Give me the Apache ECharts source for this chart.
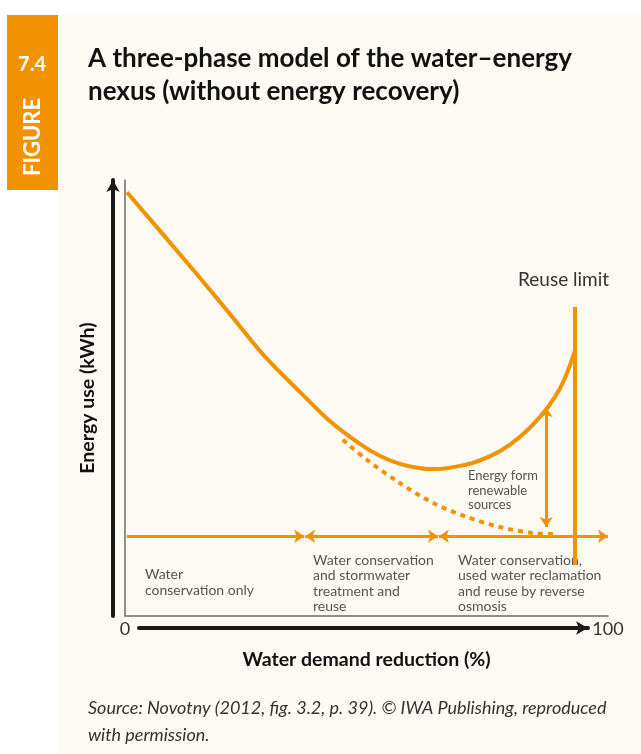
<!DOCTYPE html>
<html>
<head>
<meta charset="utf-8">
<script src="https://cdn.jsdelivr.net/npm/echarts@6/dist/echarts.min.js"></script>
<style>
  html, body { margin: 0; padding: 0; background: #ffffff; }
  #nexus-chart { width: 641px; height: 754px; }
</style>
</head>
<body>
<div id="nexus-chart"></div>
<script>
  // values: x = water demand reduction (%), y = energy use (relative)
  var energyX = [0.4, 14.1, 21.7, 28.9, 36.2, 42.4, 48.7, 52.8, 56.9, 61.1, 64.6, 68.3, 72.5, 77.6, 81.8, 85.9, 89.0, 91.1, 93.2];
  var energyY = [97.2, 79.4, 69.3, 59.6, 51.4, 44.7, 39.4, 36.7, 34.9, 33.9, 33.7, 34.2, 35.3, 37.8, 41.1, 45.6, 50.2, 54.6, 61.0];
  // dashed: energy use when renewable sources cover part of it
  var renewX = [45.1, 50.1, 56.9, 63.8, 70.8, 77.6, 84.5, 89.0];
  var renewY = [40.4, 35.8, 30.5, 25.9, 22.7, 20.4, 19.0, 18.8];
  // phase span arrows
  var phaseLevel = 18.3;
  var phaseBounds = [0.4, 37.1, 37.3, 64.8, 65.0, 100];
  var reuseLimitX = 93.2;
  var reuseLimitSpan = [11.7, 70.9];
  var renewArrowX = 87.2;
  var renewArrowSpan = [20.4, 47.9];
  var xTicks = [0, 100];

  var orange = '#f39200';
  var font = 'Lato, "Noto Sans", sans-serif';

  function pairs(xs, ys) {
    var arr = [];
    xs.map(function(v, i) {
      arr.push([v, ys[i]]);
    });
    return arr;
  }

  var chart = echarts.init(document.getElementById('nexus-chart'));
  var option = {
    backgroundColor: '#ffffff',
    textStyle: { fontFamily: font },
    title: {
      text: 'A three-phase model of the water\u2013energy\nnexus (without energy recovery)',
      left: 88,
      top: 42,
      padding: 0,
      textStyle: {
        fontFamily: font,
        fontSize: 26,
        fontWeight: 'bold',
        color: '#111111',
        lineHeight: 33
      }
    },
    graphic: [
      { type: 'rect', z: -10, shape: { x: 58, y: 15, width: 583, height: 739 }, style: { fill: '#fdf9f3' } },
      { type: 'rect', z: -10, shape: { x: 7, y: 15, width: 51, height: 175 }, style: { fill: orange } },
      { type: 'text', x: 32, y: 65, style: { text: '7.4', fill: '#ffffff', font: 'bold 20px ' + font, align: 'center', verticalAlign: 'middle' } },
      { type: 'text', x: 33, y: 137, rotation: Math.PI / 2, style: { text: 'FIGURE', fill: '#ffffff', font: 'bold 22px ' + font, align: 'center', verticalAlign: 'middle' } },
      { type: 'text', left: 518, top: 270, style: { text: 'Reuse limit', fill: '#333333', font: '19px ' + font } },
      { type: 'text', left: 468, top: 469, style: { text: 'Energy form\nrenewable\nsources', fill: '#555555', font: '13px ' + font, lineHeight: 14.5 } },
      { type: 'text', left: 145, top: 566, style: { text: 'Water\nconservation only', fill: '#555555', font: '14px ' + font, lineHeight: 16 } },
      { type: 'text', left: 313, top: 553, style: { text: 'Water conservation\nand stormwater\ntreatment and\nreuse', fill: '#555555', font: '14px ' + font, lineHeight: 15.3 } },
      { type: 'text', left: 458, top: 553, style: { text: 'Water conservation,\nused water reclamation\nand reuse by reverse\nosmosis', fill: '#555555', font: '14px ' + font, lineHeight: 15.3 } },
      { type: 'text', left: 88, top: 695, style: { text: 'Source: Novotny (2012, fig. 3.2, p. 39). \u00a9 IWA Publishing, reproduced\nwith permission.', fill: '#333333', font: 'italic 18px ' + font, lineHeight: 27 } }
    ],
    grid: [
      { left: 125, right: 33, top: 180, bottom: 138 },
      { left: 139, right: 53, top: 600, bottom: 126 }
    ],
    xAxis: [{
      type: 'value',
      gridIndex: 0,
      min: xTicks[0],
      max: xTicks[1],
      interval: xTicks[1] - xTicks[0],
      name: 'Water demand reduction (%)',
      nameLocation: 'middle',
      nameGap: 34,
      nameTextStyle: { fontFamily: font, fontSize: 19.5, fontWeight: 'bold', color: '#111111' },
      axisLine: { lineStyle: { color: '#6b6b6b', width: 1.5 } },
      axisTick: { show: false },
      splitLine: { show: false },
      axisLabel: { margin: 4, fontSize: 18, color: '#333333', fontFamily: font }
    }, {
      type: 'value',
      gridIndex: 1,
      min: 0,
      max: 100,
      axisLine: { symbol: ['none', 'arrow'], symbolSize: [10, 12], lineStyle: { color: '#1a1a1a', width: 4 } },
      axisTick: { show: false },
      axisLabel: { show: false },
      splitLine: { show: false }
    }],
    yAxis: [{
      type: 'value',
      gridIndex: 0,
      min: 0,
      max: 100,
      name: 'Energy use (kWh)',
      nameLocation: 'middle',
      nameGap: 27,
      nameTextStyle: { fontFamily: font, fontSize: 19.5, fontWeight: 'bold', color: '#111111' },
      axisLine: { show: true, lineStyle: { color: '#6b6b6b', width: 1.5 } },
      axisTick: { show: false },
      axisLabel: { show: false },
      splitLine: { show: false }
    }, {
      type: 'value',
      gridIndex: 0,
      min: 0,
      max: 100,
      offset: 12,
      position: 'left',
      axisLine: { show: true, symbol: ['none', 'arrow'], symbolSize: [10, 12], lineStyle: { color: '#1a1a1a', width: 4 } },
      axisTick: { show: false },
      axisLabel: { show: false },
      splitLine: { show: false }
    }, {
      type: 'value',
      gridIndex: 1,
      show: false
    }],
    series: [{
        name: 'Energy use',
        type: 'line',
        smooth: 0.3,
        symbol: 'none',
        lineStyle: { color: orange, width: 4 },
        data: pairs(energyX, energyY)
      },
      {
        name: 'With renewable sources',
        type: 'line',
        smooth: 0.3,
        symbol: 'none',
        lineStyle: { color: orange, width: 4, type: [5, 5] },
        data: pairs(renewX, renewY)
      },
      {
        name: 'Phase 1',
        type: 'lines',
        coordinateSystem: 'cartesian2d',
        symbol: ['none', 'arrow'],
        symbolSize: 10,
        lineStyle: { color: orange, width: 3, opacity: 1 },
        data: [{ coords: [[phaseBounds[0], phaseLevel], [phaseBounds[1], phaseLevel]] }]
      },
      {
        name: 'Phases 2-3',
        type: 'lines',
        coordinateSystem: 'cartesian2d',
        symbol: ['arrow', 'arrow'],
        symbolSize: 10,
        lineStyle: { color: orange, width: 3, opacity: 1 },
        data: [
          { coords: [[phaseBounds[2], phaseLevel], [phaseBounds[3], phaseLevel]] },
          { coords: [[phaseBounds[4], phaseLevel], [phaseBounds[5], phaseLevel]] },
          { coords: [[renewArrowX, renewArrowSpan[0]], [renewArrowX, renewArrowSpan[1]]] }
        ]
      },
      {
        name: 'Reuse limit',
        type: 'lines',
        coordinateSystem: 'cartesian2d',
        symbol: ['none', 'none'],
        lineStyle: { color: orange, width: 4, opacity: 1 },
        data: [{ coords: [[reuseLimitX, reuseLimitSpan[0]], [reuseLimitX, reuseLimitSpan[1]]] }]
      }
    ]
  };
  chart.setOption(option);
</script>
</body>
</html>
